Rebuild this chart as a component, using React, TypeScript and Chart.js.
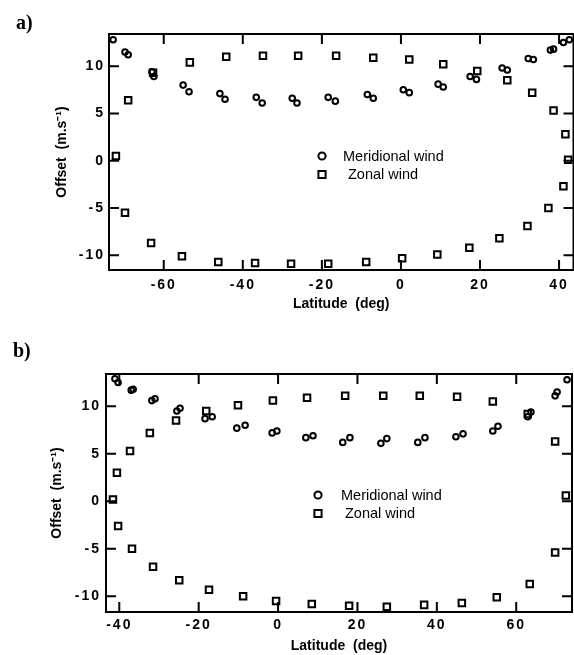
import React, { useEffect, useRef } from 'react';
import { Chart, registerables } from 'chart.js';

Chart.register(...registerables);
Chart.defaults.font.family = '"Liberation Sans", Arial, Helvetica, sans-serif';
Chart.defaults.color = '#000';

// ---------- tick labels ----------
const offsetTicks = [-10, -5, 0, 5, 10];
const latTicksA = [-60, -40, -20, 0, 20, 40];
const latTicksB = [-40, -20, 0, 20, 40, 60];

// ---------- panel a ----------
const aMeridionalLat = [-72.8, -69.8, -69.0, -63.0, -62.5, -55.1, -53.6, -45.8, -44.5, -36.6, -35.1, -27.5, -26.3, -18.4, -16.6, -8.5, -7.0, 0.6, 2.1, 9.4, 10.7, 17.5, 19.1, 25.6, 26.9, 32.2, 33.5, 37.8, 38.6, 41.1, 42.6];
const aMeridionalOffset = [12.8, 11.5, 11.2, 9.4, 8.9, 8.0, 7.3, 7.1, 6.5, 6.7, 6.1, 6.6, 6.1, 6.7, 6.3, 7.0, 6.6, 7.5, 7.2, 8.1, 7.8, 8.9, 8.6, 9.8, 9.6, 10.8, 10.7, 11.7, 11.8, 12.5, 12.8];
const aZonalLat = [-72.1, -69.8, -69.0, -63.2, -62.7, -55.4, -53.4, -46.2, -44.2, -36.9, -34.9, -27.8, -26.0, -18.4, -16.4, -8.8, -7.0, 0.3, 2.1, 9.2, 10.7, 17.3, 19.3, 24.9, 26.9, 32.0, 33.2, 37.3, 38.6, 41.1, 41.6, 42.3];
const aZonalOffset = [0.5, -5.5, 6.4, -8.7, 9.3, -10.1, 10.4, -10.7, 11.0, -10.8, 11.1, -10.9, 11.1, -10.9, 11.1, -10.7, 10.9, -10.3, 10.7, -9.9, 10.2, -9.2, 9.5, -8.2, 8.5, -6.9, 7.2, -5.0, 5.3, -2.7, 2.8, 0.1];

// ---------- panel b ----------
const bMeridionalLat = [-41.1, -40.3, -37.0, -36.5, -31.8, -31.0, -25.5, -24.7, -18.4, -16.6, -10.4, -8.3, -1.5, -0.3, 7.0, 8.8, 16.3, 18.1, 25.9, 27.4, 35.2, 37.0, 44.8, 46.6, 54.1, 55.4, 62.9, 63.7, 69.8, 70.3, 72.8];
const bMeridionalOffset = [12.9, 12.5, 11.7, 11.8, 10.6, 10.8, 9.5, 9.8, 8.7, 8.9, 7.7, 8.0, 7.2, 7.4, 6.7, 6.9, 6.2, 6.7, 6.1, 6.6, 6.2, 6.7, 6.8, 7.1, 7.4, 7.9, 8.9, 9.4, 11.1, 11.5, 12.8];
const bZonalLat = [-41.6, -40.6, -40.3, -37.3, -36.8, -32.3, -31.5, -25.7, -24.9, -18.1, -17.4, -10.1, -8.8, -1.3, -0.5, 7.3, 8.5, 16.9, 17.9, 26.5, 27.4, 35.7, 36.8, 45.1, 46.3, 54.1, 55.1, 62.9, 63.4, 69.8, 69.8, 72.5];
const bZonalOffset = [0.2, 3.0, -2.6, 5.3, -5.0, 7.2, -6.9, 8.5, -8.3, 9.5, -9.3, 10.1, -10.0, 10.6, -10.5, 10.9, -10.8, 11.1, -11.0, 11.1, -11.1, 11.1, -10.9, 11.0, -10.7, 10.5, -10.1, 9.2, -8.7, 6.3, -5.4, 0.6];

const seriesLabels = ['Meridional wind', 'Zonal wind'];
const xTitle = 'Latitude  (deg)';
const yTitle = 'Offset  (m.s\u207B\u00B9)';

const zip = (xs: number[], ys: number[]) => xs.map((x, i) => ({ x, y: ys[i] }));

const framePlugin = {
  id: 'frame',
  beforeDatasetsDraw(chart: any) {
    const { ctx, chartArea } = chart;
    const { left, right, top, bottom } = chartArea;
    const x = chart.scales.x;
    const y = chart.scales.y;
    ctx.save();
    ctx.strokeStyle = '#000';
    ctx.lineWidth = 2;
    ctx.strokeRect(left, top, right - left, bottom - top);
    const len = 10;
    ctx.beginPath();
    x.ticks.forEach((t: any) => {
      const px = x.getPixelForValue(t.value);
      ctx.moveTo(px, bottom);
      ctx.lineTo(px, bottom - len);
      ctx.moveTo(px, top);
      ctx.lineTo(px, top + len);
    });
    y.ticks.forEach((t: any) => {
      const py = y.getPixelForValue(t.value);
      ctx.moveTo(left, py);
      ctx.lineTo(left + len, py);
      ctx.moveTo(right, py);
      ctx.lineTo(right - len, py);
    });
    ctx.stroke();
    ctx.restore();
  },
  afterDatasetsDraw(chart: any) {
    chart.ctx.letterSpacing = '2px';
  },
  afterDraw(chart: any) {
    chart.ctx.letterSpacing = '0px';
  },
};

const insetLegendPlugin = {
  id: 'insetLegend',
  afterDraw(chart: any, _args: any, opts: any) {
    const { ctx, chartArea } = chart;
    ctx.save();
    ctx.letterSpacing = '0px';
    ctx.strokeStyle = '#000';
    ctx.fillStyle = '#000';
    ctx.lineWidth = 2;
    ctx.font = '14.5px "Liberation Sans", Arial, sans-serif';
    ctx.textBaseline = 'middle';
    ctx.textAlign = 'left';
    chart.data.datasets.forEach((ds: any, i: number) => {
      const cx = chartArea.left + opts.dx;
      const cy = chartArea.top + opts.dy + i * opts.rowGap;
      ctx.beginPath();
      if (ds.pointStyle === 'rect') {
        ctx.rect(cx - 3.6, cy - 3.6, 7.2, 7.2);
      } else {
        ctx.arc(cx, cy, 3.6, 0, Math.PI * 2);
      }
      ctx.stroke();
      ctx.fillText(ds.label, chartArea.left + opts.textDx[i], cy + 0.5);
    });
    ctx.restore();
  },
};

type PanelProps = {
  top: number;
  meridional: { x: number; y: number }[];
  zonal: { x: number; y: number }[];
  latRange: [number, number];
  offRange: [number, number];
  latTicks: number[];
  padTop: number;
  padRight: number;
  xAxisHeight: number;
  yAxisWidth: number;
  xLabelPad: number;
  xTitlePadBottom: number;
  yLabelPad: number;
  yTitlePadTop: number;
  legend: { dx: number; dy: number; rowGap: number; textDx: number[] };
};

function Panel(p: PanelProps) {
  const ref = useRef<HTMLCanvasElement | null>(null);
  useEffect(() => {
    if (!ref.current) return;
    const chart = new Chart(ref.current, {
      type: 'scatter',
      data: {
        datasets: [
          {
            label: seriesLabels[0],
            data: p.meridional,
            pointStyle: 'circle',
            pointRadius: 2.8,
            pointBorderWidth: 2,
            borderColor: '#000',
            backgroundColor: 'rgba(0,0,0,0)',
            clip: false,
          } as any,
          {
            label: seriesLabels[1],
            data: p.zonal,
            pointStyle: 'rect',
            pointRadius: 4.6,
            pointBorderWidth: 2,
            borderColor: '#000',
            backgroundColor: 'rgba(0,0,0,0)',
            clip: false,
          } as any,
        ],
      },
      options: {
        animation: false,
        responsive: false,
        devicePixelRatio: 1,
        events: [],
        layout: { autoPadding: false, padding: { top: p.padTop, right: p.padRight, bottom: 0, left: 0 } },
        plugins: {
          legend: { display: false },
          tooltip: { enabled: false },
          insetLegend: p.legend,
        } as any,
        scales: {
          x: {
            type: 'linear',
            position: 'bottom',
            min: p.latRange[0],
            max: p.latRange[1],
            afterBuildTicks: (s: any) => {
              s.ticks = p.latTicks.map((v) => ({ value: v }));
            },
            afterFit: (s: any) => {
              s.height = p.xAxisHeight;
              s.paddingLeft = 0;
              s.paddingRight = 0;
            },
            ticks: {
              font: { size: 14, weight: 'bold' },
              color: '#000',
              padding: p.xLabelPad,
              maxRotation: 0,
              autoSkip: false,
              z: 1,
              callback: (v: any) => String(v),
            },
            grid: { display: false, drawTicks: false },
            border: { display: false },
            title: {
              display: true,
              text: xTitle,
              color: '#000',
              font: { size: 14, weight: 'bold' },
              padding: { top: 0, bottom: p.xTitlePadBottom },
            },
          } as any,
          y: {
            type: 'linear',
            position: 'left',
            min: p.offRange[0],
            max: p.offRange[1],
            afterBuildTicks: (s: any) => {
              s.ticks = offsetTicks.map((v) => ({ value: v }));
            },
            afterFit: (s: any) => {
              s.width = p.yAxisWidth;
              s.paddingTop = 0;
              s.paddingBottom = 0;
            },
            ticks: {
              font: { size: 14, weight: 'bold' },
              color: '#000',
              padding: p.yLabelPad,
              autoSkip: false,
              z: 1,
              callback: (v: any) => String(v),
            },
            grid: { display: false, drawTicks: false },
            border: { display: false },
            title: {
              display: true,
              text: yTitle,
              color: '#000',
              font: { size: 14, weight: 'bold' },
              padding: { top: p.yTitlePadTop, bottom: 0 },
            },
          } as any,
        },
      },
      plugins: [framePlugin, insetLegendPlugin] as any,
    });
    return () => chart.destroy();
  }, []);
  return (
    <canvas
      ref={ref}
      width={574}
      height={327}
      style={{ position: 'absolute', left: 0, top: p.top, width: 574, height: 327, display: 'block' }}
    />
  );
}

const panelLabelStyle = (left: number, top: number): React.CSSProperties => ({
  position: 'absolute',
  left,
  top,
  fontFamily: '"Liberation Serif", "Times New Roman", serif',
  fontWeight: 'bold',
  fontSize: 20,
  lineHeight: '20px',
  color: '#000',
});

export default function App() {
  return (
    <div style={{ position: 'absolute', left: 0, top: 0, width: 574, height: 655, background: '#fff', overflow: 'hidden' }}>
      <Panel
        top={0}
        meridional={zip(aMeridionalLat, aMeridionalOffset)}
        zonal={zip(aZonalLat, aZonalOffset)}
        latRange={[-73.85, 43.65]}
        offRange={[-11.55, 13.4]}
        latTicks={latTicksA}
        padTop={34}
        padRight={0.5}
        xAxisHeight={57}
        yAxisWidth={109}
        xLabelPad={6.5}
        xTitlePadBottom={14.6}
        yLabelPad={4}
        yTitlePadTop={54}
        legend={{ dx: 213, dy: 122, rowGap: 18.5, textDx: [234, 239] }}
      />
      <Panel
        top={328}
        meridional={zip(bMeridionalLat, bMeridionalOffset)}
        zonal={zip(bZonalLat, bZonalOffset)}
        latRange={[-43.35, 74.05]}
        offRange={[-11.65, 13.4]}
        latTicks={latTicksB}
        padTop={46}
        padRight={2}
        xAxisHeight={43}
        yAxisWidth={106}
        xLabelPad={5}
        xTitlePadBottom={0.6}
        yLabelPad={5}
        yTitlePadTop={48.6}
        legend={{ dx: 212, dy: 121, rowGap: 18.5, textDx: [235, 239] }}
      />
      <div style={panelLabelStyle(16, 12)}>a)</div>
      <div style={panelLabelStyle(13, 340)}>b)</div>
    </div>
  );
}
